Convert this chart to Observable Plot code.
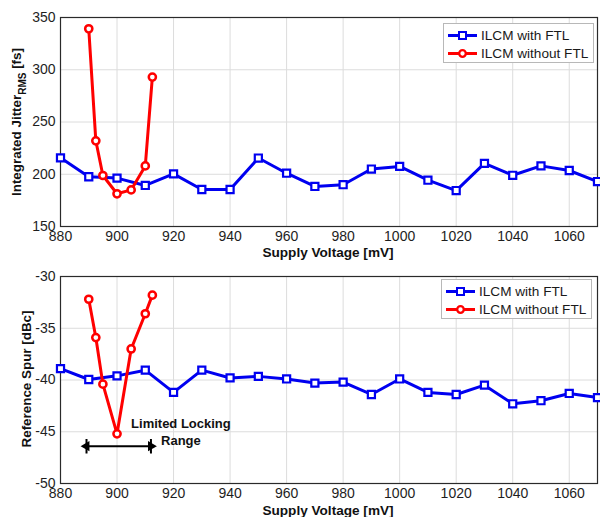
<!DOCTYPE html>
<html><head><meta charset="utf-8">
<script src="https://cdn.jsdelivr.net/npm/d3@7"></script>
<script src="https://cdn.jsdelivr.net/npm/@observablehq/plot@0.6"></script>
<style>
body{margin:0;background:#fff;font-family:"Liberation Sans",Arial,sans-serif;}
#wrap{position:relative;width:600px;height:517px;overflow:hidden;}
#wrap svg{display:block;}
.legend{position:absolute;background:#fff;border:1px solid #b8b8b8;font-size:13.6px;color:#1a1a1a;padding:2px 4px 2px 4px;box-sizing:border-box;}
.legend .row{display:flex;align-items:center;height:18.5px;}
.legend .row svg{margin-right:3px;}
</style></head>
<body><div id="wrap"></div>
<script>
// ---- data ----
const voltage = [880,890,900,910,920,930,940,950,960,970,980,990,1000,1010,1020,1030,1040,1050,1060,1070];
const jitterFTL = [215.7,197.6,196.3,189.3,200.4,185.4,185.4,215.5,201,188.3,190,205,207.5,194.3,184.4,210.4,199,208,203.6,193];
const spurFTL = [-38.9,-39.95,-39.6,-39.05,-41.2,-39.05,-39.8,-39.65,-39.9,-40.3,-40.2,-41.4,-39.9,-41.2,-41.4,-40.5,-42.3,-42.0,-41.3,-41.7];
const voltageNoFTL = [890,892.5,895,900,905,910,912.5];
const jitterNoFTL = [339.2,232,198.8,181.3,185,208,293];
const spurNoFTL = [-32.2,-35.9,-40.4,-45.2,-37.0,-33.6,-31.8];
const xTicks = [880,900,920,940,960,980,1000,1020,1040,1060];
const jitterTicks = [150,200,250,300,350];
const spurTicks = [-50,-45,-40,-35,-30];
const seriesNames = ["ILCM with FTL","ILCM without FTL"];
const xTitle = "Supply Voltage [mV]";
const lockRange = [889.2, 912];
const lockY = -46.4;
const lockLabel = ["Limited Locking","Range"];

const BLUE = "#0000f0", RED = "#ff0000";
const wrap = document.getElementById("wrap");

function panel({height, marginTop, marginBottom, yDomain, yTicks, ftl, noftl, extra = []}) {
  const A = voltage.map((v,i)=>({x:v, y:ftl[i]}));
  const B = voltageNoFTL.map((v,i)=>({x:v, y:noftl[i]}));
  return Plot.plot({
    width: 600, height, marginLeft: 60, marginRight: 3, marginTop, marginBottom,
    style: {fontFamily: "Liberation Sans, Arial, sans-serif", fontSize: "14px", color: "#1e1e1e", background: "white", overflow: "visible"},
    x: {domain: [880,1070], ticks: xTicks, tickSize: 0, tickPadding: 5, label: null, tickFormat: d => String(d)},
    y: {domain: yDomain, ticks: yTicks, tickSize: 0, tickPadding: 5, label: null, tickFormat: d => String(d)},
    marks: [
      Plot.ruleX(xTicks, {stroke: "#dcdcdc", strokeWidth: 1}),
      Plot.ruleY(yTicks, {stroke: "#dcdcdc", strokeWidth: 1}),
      Plot.frame({stroke: "#2a2a2a", strokeWidth: 1.2}),
      Plot.line(A, {x: "x", y: "y", stroke: BLUE, strokeWidth: 3}),
      Plot.dot(A, {x: "x", y: "y", symbol: "square", r: 4, fill: "white", stroke: BLUE, strokeWidth: 2.2}),
      Plot.line(B, {x: "x", y: "y", stroke: RED, strokeWidth: 3}),
      Plot.dot(B, {x: "x", y: "y", symbol: "circle", r: 3.6, fill: "white", stroke: RED, strokeWidth: 2.5}),
      ...extra
    ]
  });
}

function addTitles(svg, {ylabelX, ylabelY, main, sub, tail}) {
  const s = d3.select(svg);
  s.append("text").attr("x", 328).attr("y", 252).attr("text-anchor", "middle").attr("dy", "0.35em")
    .attr("font-weight", "bold").attr("font-size", 13.6).attr("fill", "#111").text(xTitle);
  const t = s.append("text").attr("transform", `translate(${ylabelX},${ylabelY}) rotate(-90)`)
    .attr("text-anchor", "middle").attr("dy", "0.36em").attr("font-weight", "bold").attr("font-size", 13.4).attr("fill", "#111");
  t.append("tspan").text(main);
  if (sub) {
    t.append("tspan").attr("dy", "5.5").attr("font-size", 10).text(sub);
    t.append("tspan").attr("dy", "-5.5").text(tail);
  } else if (tail) t.append("tspan").text(tail);
}

// top panel
const topPanel = panel({height: 258, marginTop: 17, marginBottom: 32, yDomain: [150,350], yTicks: jitterTicks, ftl: jitterFTL, noftl: jitterNoFTL});
addTitles(topPanel, {ylabelX: 16, ylabelY: 122, main: "Integrated Jitter", sub: "RMS", tail: " [fs]"});
wrap.appendChild(topPanel);

// bottom panel
const heads = [{x: lockRange[0], y: lockY, rot: -90}, {x: lockRange[1], y: lockY, rot: 90}];
const ann = [
  Plot.link([{x1: lockRange[0], x2: lockRange[1], y: lockY}], {x1: "x1", x2: "x2", y1: "y", y2: "y", stroke: "black", strokeWidth: 2}),
  Plot.dot(heads, {x: "x", y: "y", symbol: "triangle", r: 3.8, fill: "black", rotate: "rot"}),
  Plot.ruleX(lockRange, {y1: lockY + 0.65, y2: lockY - 0.75, stroke: "black", strokeWidth: 2}),
  Plot.text([{x: 922.6, y: -44.26, t: lockLabel[0]}, {x: 922.6, y: -45.84, t: lockLabel[1]}],
    {x: "x", y: "y", text: "t", fontWeight: "bold", fontSize: 13, fill: "#111", textAnchor: "middle", lineAnchor: "middle"})
];
const botPanel = panel({height: 259, marginTop: 18, marginBottom: 34, yDomain: [-50,-30], yTicks: spurTicks, ftl: spurFTL, noftl: spurNoFTL, extra: ann});
addTitles(botPanel, {ylabelX: 26, ylabelY: 121, main: "Reference Spur [dBc]"});
wrap.appendChild(botPanel);

// legends
function legend(left, topPx) {
  const div = document.createElement("div");
  div.className = "legend";
  div.style.left = left + "px"; div.style.top = topPx + "px";
  div.style.width = "151px"; div.style.height = "40px";
  const cfg = [{c: BLUE, sym: "square"}, {c: RED, sym: "circle"}];
  cfg.forEach((k, i) => {
    const row = document.createElement("div"); row.className = "row";
    const marker = k.sym === "square"
      ? `<rect x="11" y="4" width="7" height="7" fill="white" stroke="${k.c}" stroke-width="2"/>`
      : `<circle cx="14.5" cy="7.5" r="3.3" fill="white" stroke="${k.c}" stroke-width="2.3"/>`;
    row.innerHTML = `<svg width="30" height="15"><line x1="0" x2="29" y1="7.5" y2="7.5" stroke="${k.c}" stroke-width="3"/>${marker}</svg><span>${seriesNames[i]}</span>`;
    div.appendChild(row);
  });
  wrap.appendChild(div);
}
legend(443, 23);
legend(441, 279);
</script>
</body></html>
